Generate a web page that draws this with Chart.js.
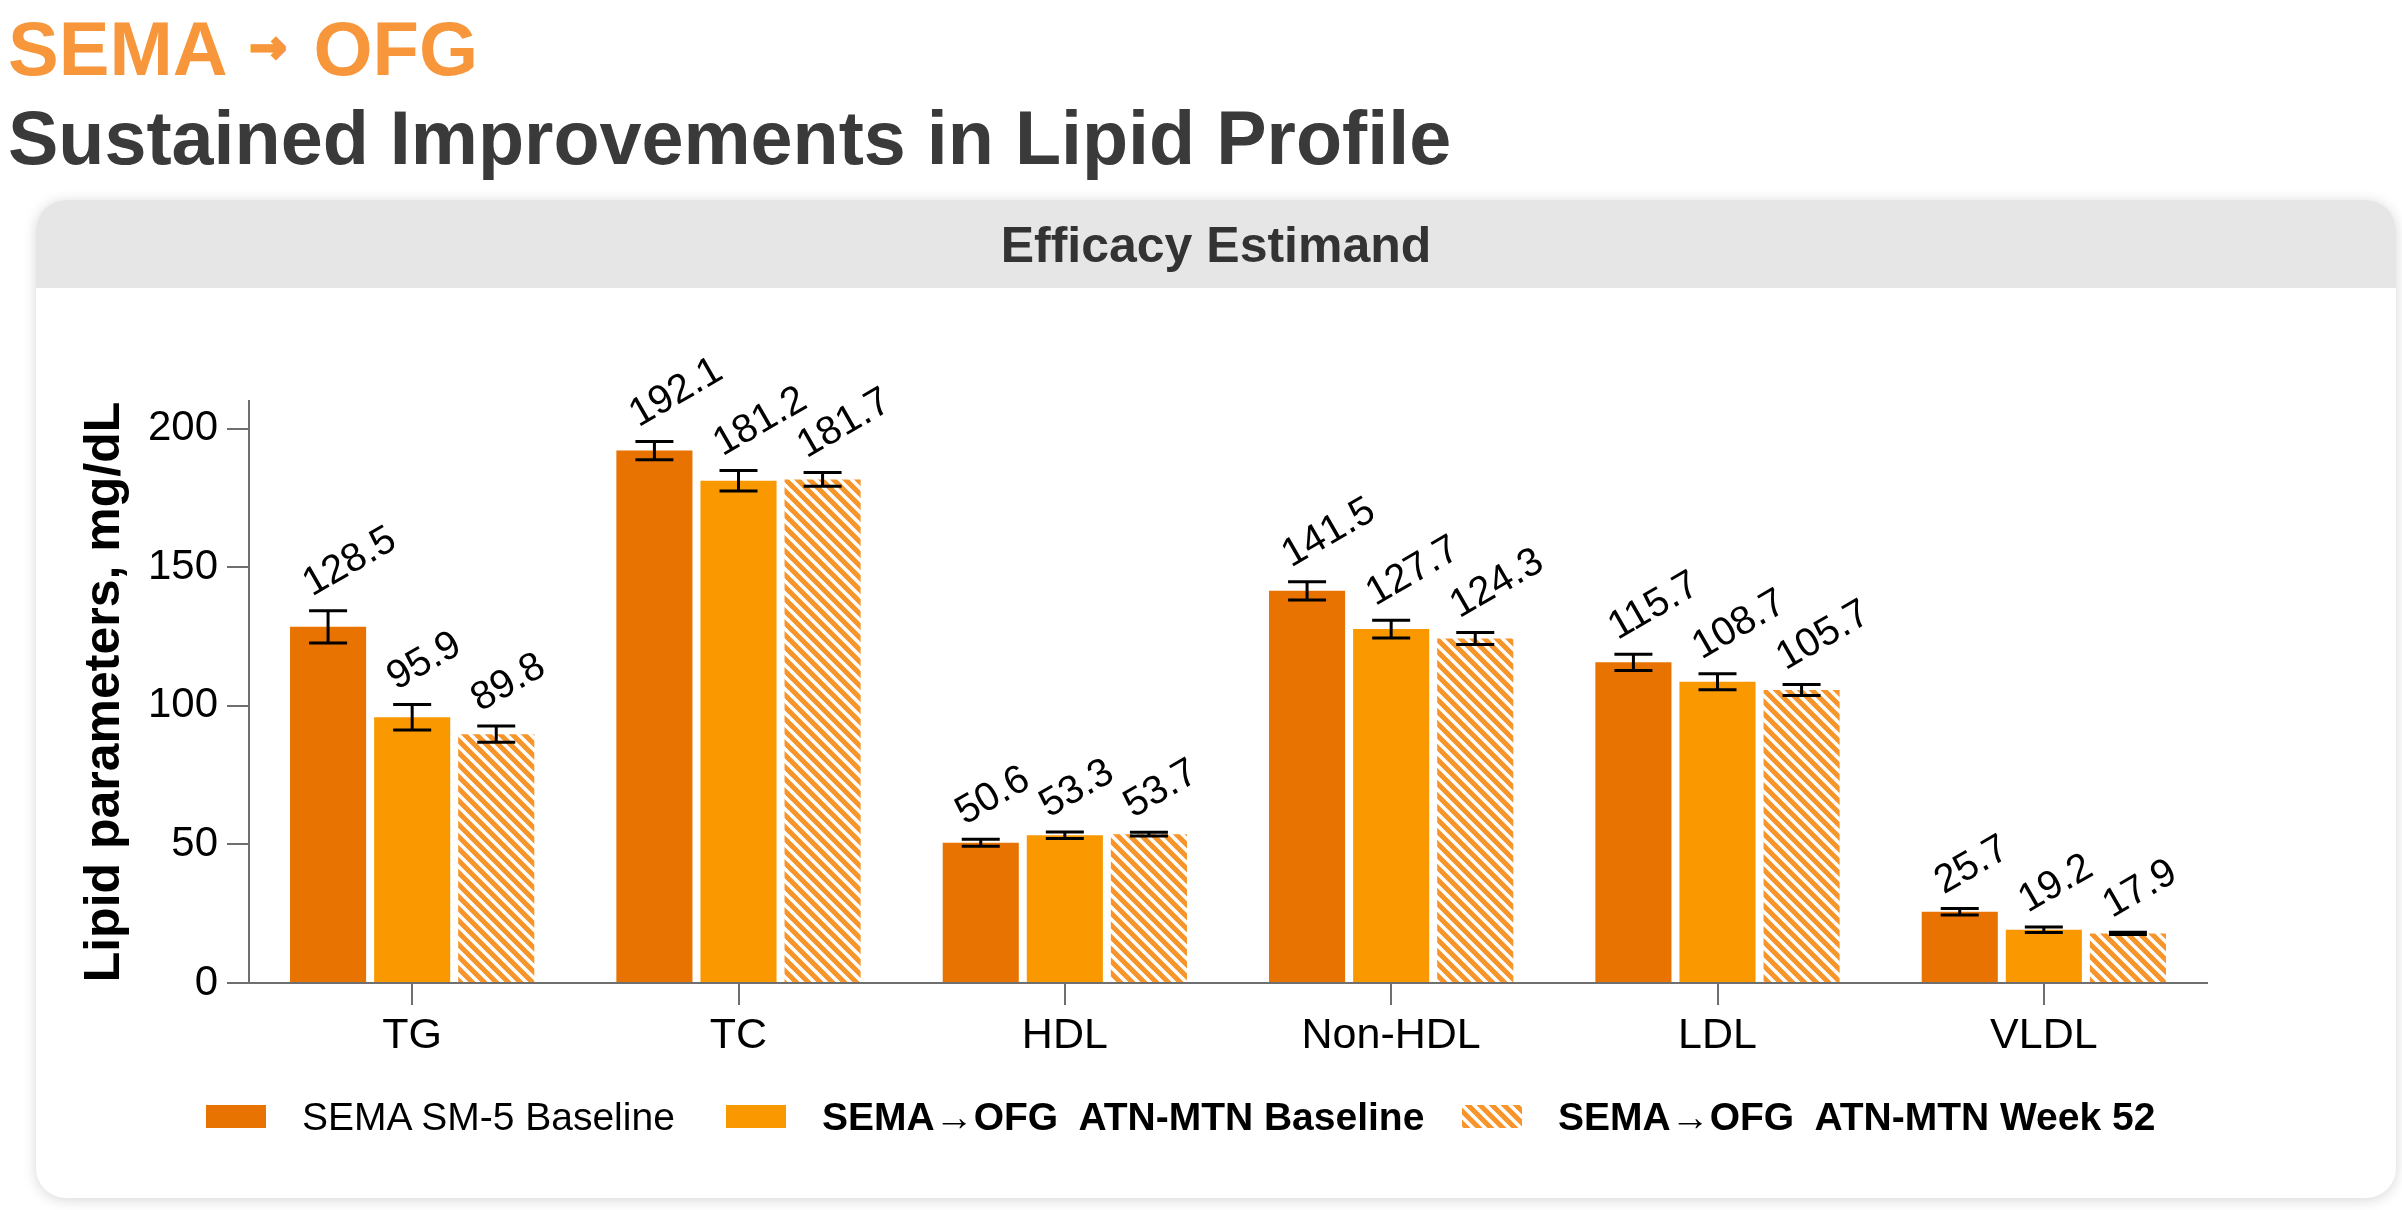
<!DOCTYPE html>
<html>
<head>
<meta charset="utf-8">
<script src="https://cdn.jsdelivr.net/npm/chart.js@4.4.0/dist/chart.umd.min.js"></script>
<style>
  html, body { margin: 0; padding: 0; background: #fff; }
  body { width: 2402px; height: 1210px; position: relative; overflow: hidden; font-family: 'Liberation Sans', Arial, sans-serif; }
  .t1 { position: absolute; left: 8px; top: 11px; font-size: 76px; line-height: 76px; font-weight: 700; color: #F7963A; white-space: pre; }
  .t1 .arr { font-family: 'DejaVu Sans', sans-serif; font-size: 44px; position: relative; top: -13px; margin: 0 27px 0 22px; -webkit-text-stroke: 3px #F7963A; }
  .t2 { position: absolute; left: 8px; top: 100px; font-size: 75.5px; line-height: 76px; font-weight: 700; color: #3A3A3A; }
  .card { position: absolute; left: 36px; top: 200px; width: 2360px; height: 998px; background: #fff; border-radius: 30px; box-shadow: 0 2px 14px rgba(0,0,0,0.16); overflow: hidden; }
  .card .head { position: absolute; left: 0; top: 0; width: 100%; height: 88px; background: #E6E6E6; }
  .card .head span { position: absolute; left: 0; width: 100%; top: 20px; text-align: center; font-size: 50px; line-height: 50px; font-weight: 700; color: #333; }
  #wrap { position: absolute; left: 0; top: 0; width: 2402px; height: 1210px; }
  .legend-item { position: absolute; top: 1097px; height: 39px; }
  .legend-item canvas { position: absolute; left: 0; top: 8px; }
  .legend-item span { position: absolute; top: 0; font-size: 39px; line-height: 39px; color: #000; white-space: pre; }
</style>
</head>
<body>
<div class="t1">SEMA<span class="arr">→</span>OFG</div>
<div class="t2">Sustained Improvements in Lipid Profile</div>
<div class="card"><div class="head"><span>Efficacy Estimand</span></div></div>
<div id="wrap"><canvas id="lipidChart" width="2402" height="1210"></canvas></div>
<div id="legend"></div>

<script>
// data
const categories = ['TG', 'TC', 'HDL', 'Non-HDL', 'LDL', 'VLDL'];
const seriesNames = ['SEMA SM-5 Baseline', 'SEMA→OFG  ATN-MTN Baseline', 'SEMA→OFG  ATN-MTN Week 52'];
const smBaseline = [128.5, 192.1, 50.6, 141.5, 115.7, 25.7];
const atnBaseline = [95.9, 181.2, 53.3, 127.7, 108.7, 19.2];
const atnWeek52 = [89.8, 181.7, 53.7, 124.3, 105.7, 17.9];
// half-widths of the error bars
const smBaselineErr = [5.8, 3.3, 1.3, 3.3, 2.9, 1.2];
const atnBaselineErr = [4.6, 3.7, 1.2, 3.2, 2.9, 1.0];
const atnWeek52Err = [2.9, 2.5, 0.7, 2.2, 2.0, 0.4];
const yTicks = [0, 50, 100, 150, 200];

const FONT = "'Liberation Sans', Arial, sans-serif";

function makeHatch(base) {
    const c = document.createElement('canvas');
    c.width = c.height = 12;
    const g = c.getContext('2d');
    g.fillStyle = base;
    g.fillRect(0, 0, 12, 12);
    g.strokeStyle = '#fff';
    g.lineWidth = 3.5;
    g.beginPath();
    g.moveTo(-3, -3); g.lineTo(15, 15);
    g.moveTo(-3, 9); g.lineTo(3, 15);
    g.moveTo(9, -3); g.lineTo(15, 3);
    g.stroke();
    return g.createPattern(c, 'repeat');
}

// error bars + rotated value labels
const errorBarsAndLabels = {
    id: 'errorBarsAndLabels',
    afterDatasetsDraw(chart) {
        const ctx = chart.ctx;
        const y = chart.scales.y;
        chart.data.datasets.forEach((ds, di) => {
            const meta = chart.getDatasetMeta(di);
            meta.data.forEach((bar, i) => {
                const v = ds.data[i], e = ds.errors[i];
                const top = y.getPixelForValue(v + e);
                const bot = y.getPixelForValue(v - e);
                ctx.save();
                ctx.strokeStyle = '#000';
                ctx.lineWidth = 3;
                ctx.beginPath();
                ctx.moveTo(bar.x, top); ctx.lineTo(bar.x, bot);
                ctx.moveTo(bar.x - 19, top); ctx.lineTo(bar.x + 19, top);
                ctx.moveTo(bar.x - 19, bot); ctx.lineTo(bar.x + 19, bot);
                ctx.stroke();
                ctx.translate(bar.x - 16, top - 14);
                ctx.rotate(-30 * Math.PI / 180);
                ctx.font = '40px ' + FONT;
                ctx.fillStyle = '#000';
                ctx.textAlign = 'left';
                ctx.textBaseline = 'alphabetic';
                ctx.fillText(v.toFixed(1), 0, 0);
                ctx.restore();
            });
        });
    }
};

const axisGray = '#6f6f6f';

const chart = new Chart(document.getElementById('lipidChart'), {
    type: 'bar',
    data: {
        labels: categories,
        datasets: [
            { label: seriesNames[0], data: smBaseline, errors: smBaselineErr, backgroundColor: '#E97300', bold: false },
            { label: seriesNames[1], data: atnBaseline, errors: atnBaselineErr, backgroundColor: '#FA9800', bold: true },
            { label: seriesNames[2], data: atnWeek52, errors: atnWeek52Err, backgroundColor: makeHatch('#F7942A'), bold: true }
        ]
    },
    options: {
        responsive: false,
        animation: false,
        devicePixelRatio: 1,
        categoryPercentage: 0.773,
        barPercentage: 0.905,
        layout: { padding: { left: 60, right: 195, top: 401, bottom: 147 } },
        plugins: {
            legend: { display: false },
            tooltip: { enabled: false }
        },
        scales: {
            x: {
                grid: { offset: false, drawOnChartArea: false, drawTicks: true, tickLength: 22, color: axisGray, lineWidth: 2 },
                border: { display: true, color: axisGray, width: 2 },
                ticks: { color: '#000', padding: 5, font: { family: FONT, size: 43 } },
                afterFit(scale) { scale.height = 80; }
            },
            y: {
                min: 0,
                max: 210,
                grid: { drawOnChartArea: false, drawTicks: true, tickLength: 22, color: axisGray, lineWidth: 2 },
                border: { display: true, color: axisGray, width: 2 },
                ticks: { color: '#000', padding: 9, font: { family: FONT, size: 42 } },
                afterBuildTicks(scale) { scale.ticks = yTicks.map(v => ({ value: v })); },
                afterFit(scale) { scale.width = 189; },
                title: {
                    display: true,
                    text: 'Lipid parameters, mg/dL',
                    color: '#000',
                    padding: { top: 15, bottom: 0 },
                    font: { family: FONT, size: 50, weight: 'bold' }
                }
            }
        }
    },
    plugins: [errorBarsAndLabels]
});

// HTML legend built from the datasets
const legendLeft = [206, 726, 1462];
const legendEl = document.getElementById('legend');
chart.data.datasets.forEach((ds, i) => {
    const item = document.createElement('div');
    item.className = 'legend-item';
    item.style.left = legendLeft[i] + 'px';
    const sw = document.createElement('canvas');
    sw.width = 60; sw.height = 23;
    const g = sw.getContext('2d');
    g.fillStyle = ds.backgroundColor;
    g.fillRect(0, 0, 60, 23);
    const txt = document.createElement('span');
    txt.textContent = ds.label;
    txt.style.left = '96px';
    txt.style.fontWeight = ds.bold ? '700' : '400';
    item.appendChild(sw);
    item.appendChild(txt);
    legendEl.appendChild(item);
});
</script>
</body>
</html>
